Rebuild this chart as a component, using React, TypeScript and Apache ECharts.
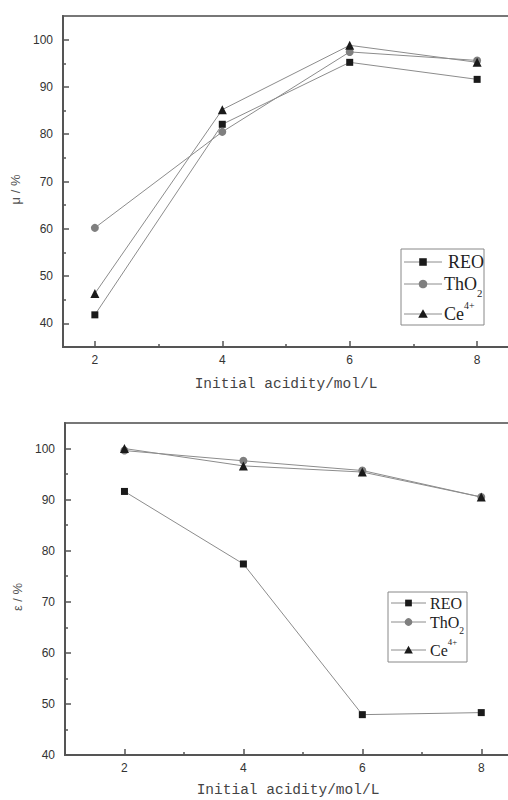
import React, { useEffect, useRef } from "react";
import * as echarts from "echarts";

const acidity = [2, 4, 6, 8];
const muREO = [41.8, 82.1, 95.2, 91.6];
const muThO2 = [60.2, 80.5, 97.4, 95.6];
const muCe = [46.3, 85.2, 98.8, 95.2];
const epsREO = [91.6, 77.4, 47.9, 48.3];
const epsThO2 = [99.6, 97.6, 95.7, 90.5];
const epsCe = [100.0, 96.6, 95.4, 90.5];
const xMajor = [2, 4, 6, 8];
const xMinor = [3, 5, 7];
const yMajor = [40, 50, 60, 70, 80, 90, 100];
const yMinor = [45, 55, 65, 75, 85, 95];
const seriesNames = ["REO", "ThO2", "Ce4+"];

const AXIS = "#555";
const LINE = "#8c8c8c";
const DARK = "#1a1a1a";
const GREY = "#7f7f7f";

const pairs = (ys: number[]) => acidity.map((x, i) => [x, ys[i]]);

function xAxes(gridIndex: number, min: number, max: number, nameGap: number, pad: number[]) {
  return [
    {
      type: "value", gridIndex, min, max, position: "bottom",
      name: "Initial acidity/mol/L", nameLocation: "middle", nameGap,
      nameTextStyle: { fontFamily: "Liberation Mono", fontSize: 14.5, color: "#444", padding: pad },
      axisLine: { show: true, lineStyle: { color: AXIS, width: 2 } },
      axisTick: { show: true, inside: true, length: 6, customValues: xMajor, lineStyle: { color: AXIS, width: 1.5 } },
      axisLabel: { customValues: xMajor, margin: 7, fontFamily: "Liberation Sans", fontSize: 12, color: "#333" },
      splitLine: { show: false },
    },
    {
      type: "value", gridIndex, min, max, position: "bottom",
      axisLine: { show: false },
      axisTick: { show: true, inside: true, length: 3, customValues: xMinor, lineStyle: { color: AXIS, width: 1.5 } },
      axisLabel: { show: false },
      splitLine: { show: false },
    },
  ];
}

function yAxes(gridIndex: number, min: number, max: number, name: string, pad: number[]) {
  return [
    {
      type: "value", gridIndex, min, max, position: "left",
      name, nameLocation: "middle", nameGap: 35, nameRotate: 90,
      nameTextStyle: { fontFamily: "Liberation Sans", fontSize: 13, color: "#555", padding: pad },
      axisLine: { show: true, lineStyle: { color: AXIS, width: 2 } },
      axisTick: { show: true, inside: true, length: 6, customValues: yMajor, lineStyle: { color: AXIS, width: 1.5 } },
      axisLabel: { customValues: yMajor, margin: 10, fontFamily: "Liberation Sans", fontSize: 12, color: "#333" },
      splitLine: { show: false },
    },
    {
      type: "value", gridIndex, min, max, position: "left",
      axisLine: { show: false },
      axisTick: { show: true, inside: true, length: 3, customValues: yMinor, lineStyle: { color: AXIS, width: 1.5 } },
      axisLabel: { show: false },
      splitLine: { show: false },
    },
  ];
}

function makeSeries(name: string, data: number[], xi: number, yi: number, symbol: string, size: number, color: string) {
  return {
    type: "line", name, data: pairs(data), xAxisIndex: xi, yAxisIndex: yi,
    symbol, symbolSize: size, showSymbol: true,
    itemStyle: { color, borderWidth: 0 },
    lineStyle: { color: LINE, width: 1 },
    z: 3,
  };
}

function legendGraphic(bx: number, by: number, bw: number, bh: number, lx1: number, lx2: number, rows: number[], tx: number[], fs: number) {
  const mx = (lx1 + lx2) / 2;
  const ms = fs * 0.42;
  const els: any[] = [
    { type: "rect", shape: { x: bx, y: by, width: bw, height: bh }, style: { fill: "#fff", stroke: "#888", lineWidth: 1 } },
  ];
  rows.forEach((ry) => {
    els.push({ type: "line", shape: { x1: lx1, y1: ry, x2: lx2, y2: ry }, style: { stroke: LINE, lineWidth: 1 } });
  });
  els.push({ type: "rect", shape: { x: mx - ms / 2, y: rows[0] - ms / 2, width: ms, height: ms }, style: { fill: DARK } });
  els.push({ type: "circle", shape: { cx: mx, cy: rows[1], r: ms / 2 + 0.5 }, style: { fill: GREY } });
  const t = ms / 2 + 1;
  els.push({ type: "polygon", shape: { points: [[mx, rows[2] - t], [mx + t, rows[2] + t * 0.8], [mx - t, rows[2] + t * 0.8]] }, style: { fill: DARK } });
  const font = { fontFamily: "Liberation Serif", fill: "#222" };
  els.push({ type: "text", x: tx[0], y: rows[0], style: { ...font, text: "REO", fontSize: fs, verticalAlign: "middle", align: "left" } });
  els.push({ type: "text", x: tx[1], y: rows[1], style: { ...font, text: "ThO", fontSize: fs, verticalAlign: "middle", align: "left" } });
  els.push({ type: "text", x: tx[1] + fs * 1.833, y: rows[1] + fs * 0.5, style: { ...font, text: "2", fontSize: fs * 0.6, verticalAlign: "middle", align: "left" } });
  els.push({ type: "text", x: tx[2], y: rows[2], style: { ...font, text: "Ce", fontSize: fs, verticalAlign: "middle", align: "left" } });
  els.push({ type: "text", x: tx[2] + fs * 1.111, y: rows[2] - fs * 0.5, style: { ...font, text: "4+", fontSize: fs * 0.55, verticalAlign: "middle", align: "left" } });
  return els;
}

export default function App() {
  const ref = useRef<HTMLDivElement>(null);
  useEffect(() => {
    if (!ref.current) return;
    const chart = echarts.init(ref.current, undefined, { renderer: "svg" });
    chart.setOption({
      animation: false,
      backgroundColor: "#fff",
      grid: [
        { left: 63, top: 16, width: 446, height: 331, show: true, borderColor: "#777", borderWidth: 2, backgroundColor: "transparent" },
        { left: 65, top: 423, width: 446, height: 332, show: true, borderColor: "#777", borderWidth: 2, backgroundColor: "transparent" },
      ],
      xAxis: [
        ...xAxes(0, 1.5, 8.5, 29, [0, 0, 0, 0]),
        ...xAxes(1, 1, 8.5, 27, [0, 0, 0, 0]),
      ],
      yAxis: [
        ...yAxes(0, 35, 105, "μ / %", [0, 16, 0, 0]),
        ...yAxes(1, 40, 105, "ε / %", [0, 16, 0, 0]),
      ],
      series: [
        makeSeries(seriesNames[0], muREO, 0, 0, "rect", 7, DARK),
        makeSeries(seriesNames[1], muThO2, 0, 0, "circle", 8, GREY),
        makeSeries(seriesNames[2], muCe, 0, 0, "triangle", 9, DARK),
        makeSeries(seriesNames[0], epsREO, 2, 2, "rect", 7, DARK),
        makeSeries(seriesNames[1], epsThO2, 2, 2, "circle", 8, GREY),
        makeSeries(seriesNames[2], epsCe, 2, 2, "triangle", 9, DARK),
      ],
      graphic: [
        ...legendGraphic(401, 249, 83, 76, 404, 442, [262, 284, 314], [448, 444, 444], 18),
        ...legendGraphic(388, 592, 79, 70, 391, 426, [603, 622, 650], [430, 430, 430], 16),
      ],
    });
    return () => chart.dispose();
  }, []);
  return (
    <div style={{ position: "fixed", left: 0, top: 0, width: 508, height: 800, overflow: "hidden", background: "#fff" }}>
      <div ref={ref} style={{ width: 560, height: 800 }} />
    </div>
  );
}
